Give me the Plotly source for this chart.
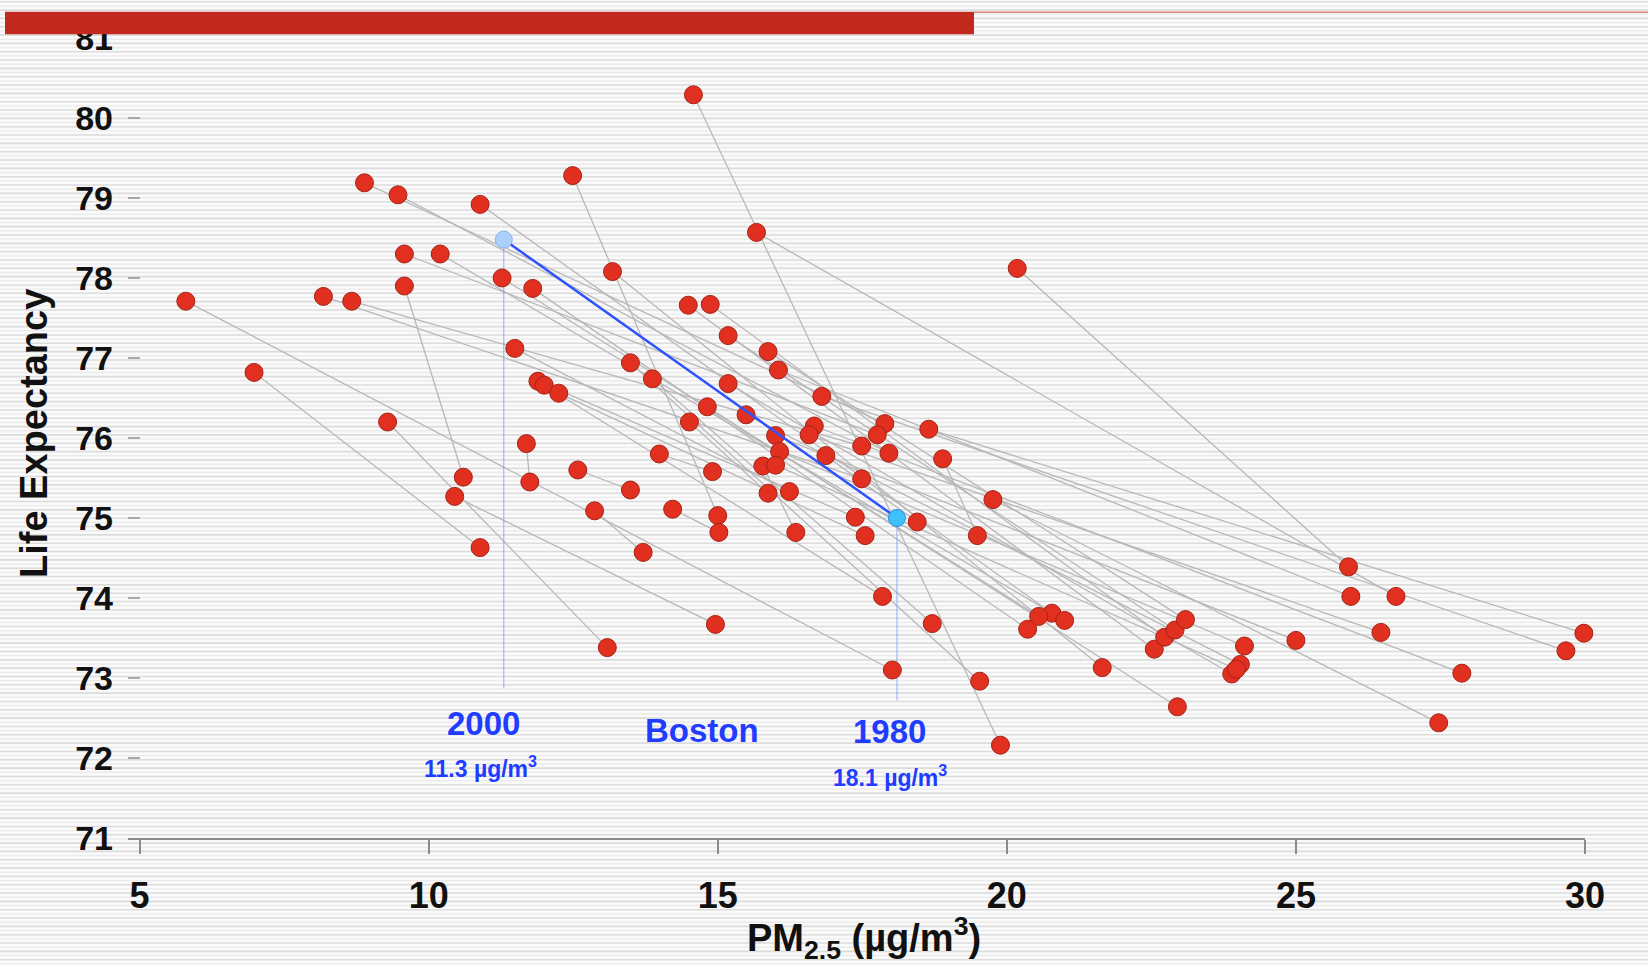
import plotly.graph_objects as go

# PM2.5 (ug/m3) and life expectancy (years) for each metro area, 2000 and 1980
pm_2000 = [5.80, 6.98, 8.89, 9.47, 10.89, 12.49, 14.58, 15.67, 20.18, 9.58,
           10.20, 9.58, 8.18, 8.67, 11.27, 11.80, 13.18, 14.49, 14.87, 15.18,
           15.87, 11.49, 13.49, 13.87, 16.05, 11.89, 12.00, 12.25, 15.18, 16.80,
           14.82, 14.51, 15.49, 16.67, 16.58, 16.00, 18.65, 9.29, 11.69, 16.07,
           16.87, 18.89, 13.99, 15.78, 16.00, 12.58, 10.45, 19.76, 14.22, 12.87]
le_2000 = [77.71, 76.82, 79.19, 79.04, 78.92, 79.28, 80.29, 78.57, 78.12, 78.30,
           78.30, 77.90, 77.77, 77.71, 78.00, 77.87, 78.08, 77.66, 77.67, 77.28,
           77.08, 77.12, 76.94, 76.74, 76.85, 76.71, 76.66, 76.56, 76.68, 76.52,
           76.39, 76.20, 76.29, 76.15, 76.04, 76.03, 76.11, 76.20, 75.93, 75.83,
           75.78, 75.74, 75.80, 75.65, 75.66, 75.60, 75.27, 75.23, 75.11, 75.09]
pm_1980 = [18.02, 10.89, 17.89, 17.96, 20.78, 15.00, 19.89, 26.73, 25.91, 17.76,
           21.00, 10.60, 17.49, 17.49, 20.55, 20.36, 21.65, 22.55, 22.73, 22.91,
           23.09, 16.24, 19.53, 18.71, 25.95, 17.38, 17.85, 17.55, 23.89, 29.67,
           22.95, 15.87, 24.04, 27.87, 26.47, 25.00, 29.98, 13.09, 11.75, 24.11,
           18.45, 19.49, 14.91, 16.35, 23.97, 13.49, 14.96, 27.47, 15.02, 13.71]
le_1980 = [73.10, 74.63, 76.18, 75.81, 73.81, 75.03, 72.16, 74.02, 74.39, 76.04,
           73.72, 75.51, 75.49, 75.90, 73.77, 73.61, 73.13, 73.36, 73.51, 73.60,
           73.73, 75.33, 72.96, 73.68, 74.02, 75.01, 74.02, 74.78, 73.05, 73.34,
           72.64, 75.31, 73.17, 73.06, 73.57, 73.47, 73.56, 73.38, 75.45, 73.40,
           74.95, 74.78, 75.58, 74.82, 73.11, 75.35, 73.67, 72.44, 74.82, 74.57]

# Boston: [2000, 1980]
boston_pm = [11.3, 18.1]
boston_le = [78.48, 75.0]
boston_years = ["2000", "1980"]

x_ticks = [5, 10, 15, 20, 25, 30]
y_ticks = [71, 72, 73, 74, 75, 76, 77, 78, 79, 80, 81]

W, H = 1648, 966
L, R, T, B = 128, 63, 38, 128
PW, PH = W - L - R, H - T - B

FONT = "Liberation Sans, Arial, Helvetica, sans-serif"
BLUE = "#1f3cff"


def px(X):
    return (X - L) / PW


def py(Y):
    return (T + PH - Y) / PH


fig = go.Figure()

# grey segments joining each area's 2000 and 1980 values
seg_x, seg_y = [], []
for a, b, c, d in zip(pm_2000, le_2000, pm_1980, le_1980):
    seg_x += [a, c, None]
    seg_y += [b, d, None]
fig.add_trace(go.Scatter(x=seg_x, y=seg_y, mode="lines",
                         line=dict(color="#b8b8b8", width=1.3),
                         hoverinfo="skip", showlegend=False, cliponaxis=False))

# thin guides dropping from Boston's points to their labels
fig.add_trace(go.Scatter(
    x=[boston_pm[0], boston_pm[0], None, boston_pm[1], boston_pm[1]],
    y=[boston_le[0], 72.87, None, boston_le[1], 72.72],
    mode="lines", line=dict(color="rgba(110,140,255,0.7)", width=1),
    hoverinfo="skip", showlegend=False))

# all metro areas
fig.add_trace(go.Scatter(x=pm_2000 + pm_1980, y=le_2000 + le_1980, mode="markers",
                         marker=dict(size=18, color="#e1301f",
                                     line=dict(color="#a52215", width=1)),
                         showlegend=False, cliponaxis=False))

# Boston highlighted
fig.add_trace(go.Scatter(x=boston_pm, y=boston_le, mode="lines",
                         line=dict(color="#2d52ff", width=2.5),
                         hoverinfo="skip", showlegend=False))
fig.add_trace(go.Scatter(x=boston_pm, y=boston_le, mode="markers",
                         marker=dict(size=17, color=["#acd0fb", "#3dc1fd"],
                                     line=dict(color=["#86b2ee", "#2a8fe0"], width=1)),
                         showlegend=False))

# pinstripe background across the whole page
strong, weak = [], []
Y = 151.7 - 8.33 * 19
while Y < H + 5:
    strong.append("M%.5f,%.5f L%.5f,%.5f" % (px(-5), py(Y), px(W + 5), py(Y)))
    Yw = Y + 4.17
    weak.append("M%.5f,%.5f L%.5f,%.5f" % (px(-5), py(Yw), px(W + 5), py(Yw)))
    Y += 8.33
shapes = [
    dict(type="path", xref="paper", yref="paper", path=" ".join(strong),
         line=dict(color="#dcdcdc", width=1.6), layer="below"),
    dict(type="path", xref="paper", yref="paper", path=" ".join(weak),
         line=dict(color="#ebebeb", width=1.4), layer="below"),
    # red header bar and rule
    dict(type="line", xref="paper", yref="paper", x0=px(974), x1=px(W + 5),
         y0=py(12.3), y1=py(12.3), line=dict(color="#d9837b", width=1.5)),
    dict(type="rect", xref="paper", yref="paper", x0=px(5), x1=px(974),
         y0=py(34.3), y1=py(11.7), fillcolor="#c1281e", line=dict(width=0)),
]

annotations = [
    dict(text="Life Expectancy", xref="paper", yref="paper", x=px(34), y=py(434),
         textangle=-90, showarrow=False, xanchor="center", yanchor="middle",
         font=dict(family=FONT, size=38, color="#111111", weight="bold")),
    dict(text="PM<sub>2.5</sub> (\u00b5g/m<sup>3</sup>)", xref="paper", yref="paper",
         x=px(864), y=py(938), showarrow=False, xanchor="center", yanchor="middle",
         font=dict(family=FONT, size=38, color="#111111", weight="bold")),
    dict(text=boston_years[0], x=10.955, y=72.43, showarrow=False,
         font=dict(family=FONT, size=33, color=BLUE, weight="bold")),
    dict(text="%.1f \u00b5g/m<sup>3</sup>" % boston_pm[0], x=10.9, y=71.89, showarrow=False,
         font=dict(family=FONT, size=23, color=BLUE, weight="bold")),
    dict(text="Boston", x=14.73, y=72.35, showarrow=False,
         font=dict(family=FONT, size=33, color=BLUE, weight="bold")),
    dict(text=boston_years[1], x=17.97, y=72.33, showarrow=False,
         font=dict(family=FONT, size=33, color=BLUE, weight="bold")),
    dict(text="%.1f \u00b5g/m<sup>3</sup>" % boston_pm[1], x=17.98, y=71.78, showarrow=False,
         font=dict(family=FONT, size=23, color=BLUE, weight="bold")),
]

fig.update_layout(
    width=W, height=H, autosize=False,
    margin=dict(l=L, r=R, t=T, b=B, pad=0),
    paper_bgcolor="#fafafa", plot_bgcolor="rgba(0,0,0,0)",
    showlegend=False, shapes=shapes, annotations=annotations,
    xaxis=dict(range=[4.8, 30.0], tickvals=x_ticks, ticktext=[str(v) for v in x_ticks],
               showgrid=False, zeroline=False, showline=True, linecolor="#8c8c8c",
               linewidth=1.5, ticks="outside", ticklen=14, tickwidth=1.5,
               tickcolor="#8c8c8c", ticklabelstandoff=11,
               tickfont=dict(family=FONT, size=36, color="#111111", weight="bold")),
    yaxis=dict(range=[71, 81], tickvals=y_ticks, ticktext=[str(v) for v in y_ticks],
               showgrid=False, zeroline=False, showline=False, ticks="inside",
               ticklen=12, tickwidth=1.5, tickcolor="#a8a8a8", ticklabelstandoff=14,
               tickfont=dict(family=FONT, size=34, color="#111111", weight="bold")),
)

fig.write_html("out.html", config={"displayModeBar": False})
